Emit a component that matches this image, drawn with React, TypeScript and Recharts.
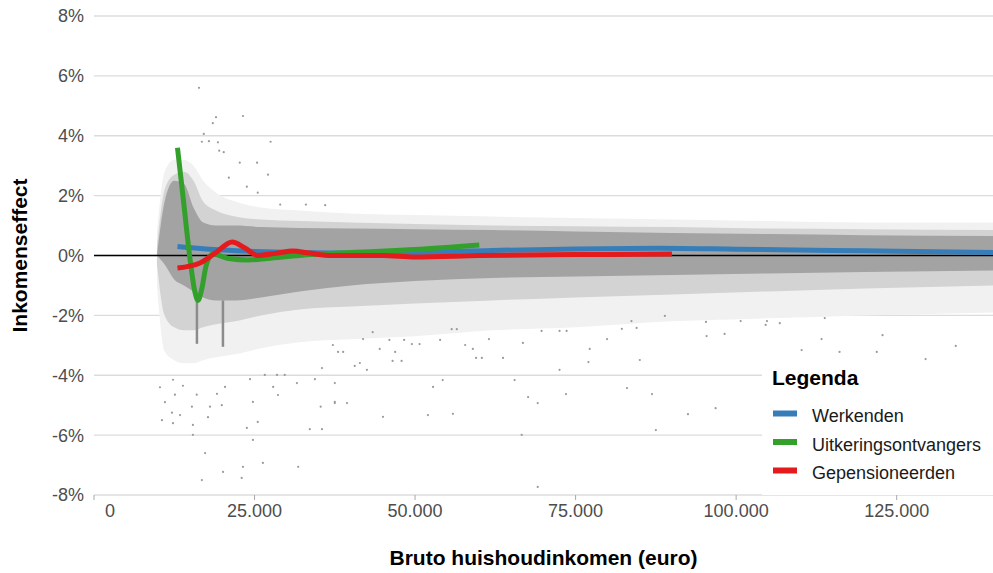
import React from "react";
import { ComposedChart, Area, Line, Scatter, XAxis, YAxis, CartesianGrid, Legend, Label } from "recharts";

// ---------- data ----------
const xTicks = [0, 25000, 50000, 75000, 100000, 125000];
const yTicks = [-8, -6, -4, -2, 0, 2, 4, 6, 8];

// envelope of the grey point cloud (income in euro, effect in %)
const bandX = [9800, 11000, 12500, 14000, 15500, 17000, 19000, 22000, 26000, 32000, 40000, 50000, 62000, 75000, 90000, 105000, 120000, 140000];
const outerLow = [-1.0, -3.2, -3.5, -3.6, -3.6, -3.5, -3.4, -3.3, -3.1, -2.9, -2.8, -2.7, -2.5, -2.4, -2.2, -2.1, -2.0, -1.9];
const outerHigh = [0.8, 2.8, 3.2, 3.2, 3.0, 2.5, 2.1, 1.8, 1.6, 1.5, 1.4, 1.35, 1.3, 1.25, 1.2, 1.15, 1.1, 1.1];
const midLow = [-0.3, -2.0, -2.4, -2.5, -2.5, -2.4, -2.3, -2.2, -2.0, -1.8, -1.7, -1.6, -1.5, -1.4, -1.3, -1.2, -1.1, -1.0];
const midHigh = [0.3, 2.2, 2.7, 2.8, 2.5, 1.8, 1.5, 1.3, 1.2, 1.15, 1.1, 1.05, 1.0, 0.98, 0.95, 0.9, 0.88, 0.85];
const coreLow = [0, -0.3, -0.8, -1.0, -1.2, -1.4, -1.5, -1.5, -1.4, -1.2, -1.0, -0.85, -0.75, -0.7, -0.65, -0.6, -0.55, -0.5];
const coreHigh = [0, 1.8, 2.5, 2.4, 1.6, 1.1, 1.0, 1.0, 0.95, 0.92, 0.9, 0.88, 0.85, 0.8, 0.75, 0.72, 0.68, 0.65];

// isolated points outside the dense cloud
const outlierX = [16350, 19000, 18500, 23200, 17100, 16800, 17900, 19300, 27500, 19500, 20200, 22700, 25400, 27100, 21000, 23800, 25500, 29000, 33000, 36000,
  10270, 11050, 12300, 12600, 13850, 12140, 13400, 10580, 12300, 15250, 15400, 16000, 17750, 18060, 15400, 17300, 16800, 20100, 23000, 23200,
  26300, 31800, 24750, 23800, 25500, 19900, 20400, 19150, 24750, 28650, 27900, 24300, 26600, 28500, 29700, 31600, 34400, 35500, 37200, 35300,
  37500, 33600, 35500, 37500, 37500, 39400, 45000, 52000, 55900, 52800, 54300, 65500, 67600, 69100, 73500, 83000, 86900, 87500, 66600, 69100,
  40600, 41400, 42500, 46500, 47900, 59500, 60400, 63700, 72500, 77000, 85000, 38000, 38800, 44500, 46900, 49500, 50700, 57800, 59000, 66800,
  77200, 79900, 61500, 46000, 48300, 53900, 82200, 84500, 69700, 72500, 73600, 41900, 43400, 83700, 55700, 56500,
  88900, 95300, 95400, 98200, 100700, 104800, 104600, 106800, 113800, 113300, 110200, 116100, 121900, 122800, 129500, 134200, 106000, 116900, 92500, 96800];
const outlierY = [5.6, 4.62, 4.42, 4.66, 4.06, 3.8, 3.82, 3.78, 3.8, 3.5, 3.45, 3.1, 3.1, 2.7, 2.6, 2.3, 2.1, 1.7, 1.7, 1.68,
  -4.4, -4.9, -4.15, -4.65, -4.35, -5.25, -5.33, -5.5, -5.6, -5.05, -5.66, -4.65, -5.4, -5.05, -5.99, -6.6, -7.5, -7.23, -7.43, -7.06,
  -6.93, -7.06, -6.16, -5.76, -5.56, -5.0, -4.39, -4.62, -4.89, -4.66, -4.39, -4.13, -3.99, -3.99, -3.99, -4.26, -4.13, -3.76, -2.99, -5.05,
  -4.89, -5.8, -5.8, -4.26, -4.93, -4.93, -5.39, -5.33, -5.29, -4.39, -4.16, -4.16, -4.73, -4.93, -4.63, -4.43, -4.63, -5.83, -5.99, -7.73,
  -3.69, -3.59, -3.82, -3.52, -3.52, -3.42, -3.42, -3.42, -3.82, -3.56, -3.49, -3.22, -3.22, -3.12, -3.22, -2.96, -2.96, -2.99, -3.12, -2.92,
  -3.12, -2.79, -2.79, -2.82, -2.82, -2.82, -2.45, -2.42, -2.52, -2.52, -2.52, -2.79, -2.56, -2.19, -2.46, -2.46,
  -2.02, -2.22, -2.69, -2.62, -2.19, -2.19, -2.32, -2.26, -2.09, -2.79, -3.16, -3.22, -3.22, -2.66, -3.46, -3.02, -3.72, -3.72, -5.3, -5.1];

// vertical streaks of points at two income levels
const spikeX = [16030, 20080];
const spikeTop = [-1.3, -1.5];
const spikeBottom = [-2.95, -3.05];

// smoothed lines per group
const werkendenX = [13000, 20000, 25000, 37000, 50000, 62000, 75000, 88000, 100000, 115000, 125000, 140000];
const werkendenY = [0.3, 0.18, 0.13, 0.08, 0.1, 0.17, 0.22, 0.24, 0.21, 0.17, 0.14, 0.1];
const uitkeringX = [13000, 14000, 15000, 15700, 16200, 16800, 17500, 18500, 19500, 21000, 24000, 27000, 32000, 40000, 50000, 60000];
const uitkeringY = [3.6, 1.7, -0.2, -1.2, -1.5, -1.1, -0.3, 0.05, 0.0, -0.1, -0.15, -0.1, 0.0, 0.1, 0.2, 0.35];
const pensioenX = [13000, 16500, 19000, 21500, 23500, 25500, 28500, 31000, 33500, 37000, 45000, 50000, 60000, 75000, 90000];
const pensioenY = [-0.42, -0.25, 0.1, 0.45, 0.25, 0.0, 0.08, 0.15, 0.08, 0.0, 0.0, -0.05, 0.0, 0.03, 0.05];

const seriesNames = ["Werkenden", "Uitkeringsontvangers", "Gepensioneerden"];
const seriesColors = ["#377EB8", "#33A02C", "#E41A1C"];
const zeroX = [0, 140000];

// ---------- derived tables ----------
const bandData = bandX.map((x, i) => ({
  x,
  outer: [outerLow[i], outerHigh[i]],
  mid: [midLow[i], midHigh[i]],
  core: [coreLow[i], coreHigh[i]],
}));
const outliers = outlierX.map((x, i) => ({ x, y: outlierY[i] }));
const toLine = (xs: number[], ys: number[]) => xs.map((x, i) => ({ x, y: ys[i] }));
const lineData = [toLine(werkendenX, werkendenY), toLine(uitkeringX, uitkeringY), toLine(pensioenX, pensioenY)];
const spikes = spikeX.map((x, i) => [{ x, y: spikeTop[i] }, { x, y: spikeBottom[i] }]);
const zeroData = zeroX.map((x) => ({ x, y: 0 }));

const FONT = "'Liberation Sans', Arial, sans-serif";
const fmtThousands = (v: number) => String(v).replace(/\B(?=(\d{3})+(?!\d))/g, ".");

const XTick = (props: any) => {
  const { x, y, payload } = props;
  const v = payload.value;
  return (
    <text x={v === 0 ? x + 16 : x} y={y} dy="0.71em" textAnchor="middle" fill="#4d4d4d" fontSize={18} fontFamily={FONT}>
      {fmtThousands(v)}
    </text>
  );
};

const YTick = (props: any) => {
  const { x, y, payload } = props;
  return (
    <text x={x} y={y} dy="0.355em" textAnchor="end" fill="#4d4d4d" fontSize={18} fontFamily={FONT}>
      {payload.value + "%"}
    </text>
  );
};

const renderLegend = (props: any) => {
  const payload = props.payload || [];
  const items = seriesNames.map((name, i) => {
    const found = payload.find((p: any) => p.value === name);
    return { name, color: found ? found.color : seriesColors[i] };
  });
  return (
    <svg width={231} height={133} style={{ display: "block", background: "#fff" }}>
      <rect x={0} y={0} width={231} height={133} fill="#fff" />
      <text x={10} y={23} fontSize={21} fontWeight="bold" fontFamily={FONT} fill="#000">Legenda</text>
      {items.map((p, i) => (
        <g key={p.name}>
          <rect x={11} y={48.5 + i * 28.5} width={24} height={6} fill={p.color} />
          <text x={50} y={60 + i * 28.5} fontSize={18} fontFamily={FONT} fill="#1a1a1a">{p.name}</text>
        </g>
      ))}
    </svg>
  );
};

const dot = (p: any) => <circle cx={p.cx} cy={p.cy} r={1.1} fill="#9a9a9a" />;

export default function App() {
  return (
    <div style={{ position: "absolute", left: 0, top: 0, width: 993, height: 573, background: "#fff" }}>
      <ComposedChart width={993} height={573} data={bandData} margin={{ top: 16, right: 0, left: 34, bottom: 48 }}>
        <CartesianGrid vertical={false} stroke="#dcdcdc" strokeWidth={1.4} />
        <XAxis
          dataKey="x"
          type="number"
          domain={[0, 140000]}
          ticks={xTicks}
          allowDataOverflow
          axisLine={false}
          tickLine={{ stroke: "#a8a8a8" }}
          tickSize={5}
          tickMargin={4}
          height={30}
          tick={<XTick />}
        >
          <Label
            content={(p: any) => (
              <text x={p.viewBox.x + p.viewBox.width / 2} y={565} textAnchor="middle" fontSize={21} fontWeight="bold" fontFamily={FONT} fill="#000">
                Bruto huishoudinkomen (euro)
              </text>
            )}
          />
        </XAxis>
        <YAxis
          type="number"
          domain={[-8, 8]}
          ticks={yTicks}
          allowDataOverflow
          axisLine={false}
          tickLine={false}
          tickMargin={4}
          width={60}
          tick={<YTick />}
        >
          <Label
            content={(p: any) => {
              const cy = p.viewBox.y + p.viewBox.height / 2;
              return (
                <text x={27} y={cy} transform={`rotate(-90, 27, ${cy})`} textAnchor="middle" fontSize={21} fontWeight="bold" fontFamily={FONT} fill="#000">
                  Inkomenseffect
                </text>
              );
            }}
          />
        </YAxis>

        <Area dataKey="outer" type="monotone" stroke="none" fill="#f1f1f1" fillOpacity={1} isAnimationActive={false} legendType="none" />
        <Area dataKey="mid" type="monotone" stroke="none" fill="#d3d3d3" fillOpacity={1} isAnimationActive={false} legendType="none" />
        <Area dataKey="core" type="monotone" stroke="none" fill="#a3a3a3" fillOpacity={1} isAnimationActive={false} legendType="none" />
        <Scatter data={outliers} dataKey="y" shape={dot} isAnimationActive={false} legendType="none" />
        {spikes.map((s, i) => (
          <Line key={"spike" + i} data={s} dataKey="y" stroke="#8c8c8c" strokeWidth={2.5} dot={false} activeDot={false} isAnimationActive={false} legendType="none" />
        ))}
        <Line data={zeroData} dataKey="y" stroke="#000" strokeWidth={1.5} dot={false} activeDot={false} isAnimationActive={false} legendType="none" />
        {lineData.map((d, i) => (
          <Line
            key={seriesNames[i]}
            name={seriesNames[i]}
            data={d}
            dataKey="y"
            type="monotone"
            stroke={seriesColors[i]}
            strokeWidth={5}
            dot={false}
            activeDot={false}
            isAnimationActive={false}
          />
        ))}
        <Legend
          layout="vertical"
          align="center"
          verticalAlign="middle"
          content={renderLegend}
          wrapperStyle={{ position: "absolute", left: 762, top: 362, width: 231, height: 133 }}
        />
      </ComposedChart>
    </div>
  );
}
